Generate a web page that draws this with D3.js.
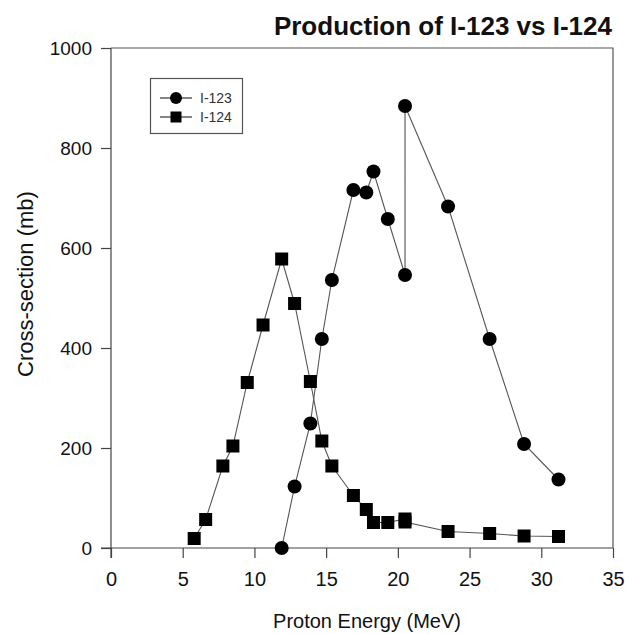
<!DOCTYPE html>
<html>
<head>
<meta charset="utf-8">
<script src="https://cdn.jsdelivr.net/npm/d3@7"></script>
<style>
  body { margin: 0; background: #fff; }
  svg { font-family: "Liberation Sans", Arial, sans-serif; }
  .tick text { fill: #111; }
  .tick line { stroke: #444; }
</style>
</head>
<body>
<div id="chart"></div>
<script>
// I-123 (circles)
var i123Energy = [11.9, 12.8, 13.9, 14.7, 15.4, 16.9, 17.8, 18.3, 19.3, 20.5, 20.5, 23.5, 26.4, 28.8, 31.2];
var i123Xs     = [0, 123, 249, 418, 536, 716, 711, 753, 658, 546, 884, 683, 418, 208, 137];
// I-124 (squares)
var i124Energy = [5.8, 6.6, 7.8, 8.5, 9.5, 10.6, 11.9, 12.8, 13.9, 14.7, 15.4, 16.9, 17.8, 18.3, 19.3, 20.5, 20.5, 23.5, 26.4, 28.8, 31.2];
var i124Xs     = [19, 57, 164, 204, 331, 446, 578, 489, 333, 214, 164, 105, 77, 51, 51, 58, 52, 33, 29, 24, 23];
var xTicks = [0, 5, 10, 15, 20, 25, 30, 35];
var yTicks = [0, 200, 400, 600, 800, 1000];

var width = 625, height = 634,
    plotLeft = 111, plotRight = 613, plotTop = 48, plotBottom = 548,
    tickLen = 10;

var svg = d3.select("#chart").append("svg")
  .attr("width", width)
  .attr("height", height);

var x = d3.scaleLinear().domain([0, 35]).range([plotLeft, plotRight]);
var y = d3.scaleLinear().domain([0, 1000]).range([plotBottom, plotTop]);

// frame top and right
svg.append("path")
  .attr("d", "M" + x(0) + "," + y(1000) + "H" + x(35) + "V" + y(0))
  .attr("fill", "none").attr("stroke", "#555").attr("stroke-width", 1.2);

var xAxis = svg.append("g")
  .attr("transform", "translate(0," + y(0) + ")")
  .call(d3.axisBottom(x).tickValues(xTicks).tickSize(tickLen).tickPadding(14));
xAxis.select(".domain").remove();
xAxis.selectAll(".tick text").attr("font-size", 20);

var yAxis = svg.append("g")
  .attr("transform", "translate(" + x(0) + ",0)")
  .call(d3.axisLeft(y).tickValues(yTicks).tickFormat(d3.format("d")).tickSize(tickLen).tickPadding(9));
yAxis.select(".domain").remove();
yAxis.selectAll(".tick text").attr("font-size", 19);

svg.selectAll(".tick line").attr("stroke-width", 1.2);

// axis lines extending past origin
svg.append("line")
  .attr("x1", x(0) - tickLen).attr("x2", x(35))
  .attr("y1", y(0)).attr("y2", y(0))
  .attr("stroke", "#444").attr("stroke-width", 1.2);
svg.append("line")
  .attr("x1", x(0)).attr("x2", x(0))
  .attr("y1", y(0) + tickLen).attr("y2", y(1000))
  .attr("stroke", "#444").attr("stroke-width", 1.2);

// titles
svg.append("text")
  .attr("x", 612).attr("y", 35)
  .attr("text-anchor", "end")
  .attr("font-size", 26).attr("font-weight", "bold")
  .attr("fill", "#111")
  .text("Production of I-123 vs I-124");

svg.append("text")
  .attr("x", 367).attr("y", 628)
  .attr("text-anchor", "middle")
  .attr("font-size", 20).attr("fill", "#111")
  .text("Proton Energy (MeV)");

svg.append("text")
  .attr("transform", "translate(33,284) rotate(-90)")
  .attr("text-anchor", "middle")
  .attr("font-size", 22).attr("fill", "#111")
  .text("Cross-section (mb)");

var line = d3.line()
  .x(function(d) { return x(d[0]); })
  .y(function(d) { return y(d[1]); });

var s123 = d3.zip(i123Energy, i123Xs),
    s124 = d3.zip(i124Energy, i124Xs);

[s123, s124].forEach(function(s) {
  svg.append("path")
    .datum(s)
    .attr("d", line)
    .attr("fill", "none")
    .attr("stroke", "#555")
    .attr("stroke-width", 1.1);
});

svg.selectAll(".sq")
  .data(s124)
  .enter().append("rect")
  .attr("class", "sq")
  .attr("x", function(d) { return x(d[0]) - 6.5; })
  .attr("y", function(d) { return y(d[1]) - 6.5; })
  .attr("width", 13).attr("height", 13)
  .attr("fill", "#000");

svg.selectAll(".dot")
  .data(s123)
  .enter().append("circle")
  .attr("class", "dot")
  .attr("cx", function(d) { return x(d[0]); })
  .attr("cy", function(d) { return y(d[1]); })
  .attr("r", 7)
  .attr("fill", "#000");

// legend
var lg = svg.append("g");
lg.append("rect")
  .attr("x", 150.5).attr("y", 78.5)
  .attr("width", 92).attr("height", 55)
  .attr("fill", "#fff").attr("stroke", "#555").attr("stroke-width", 1.2);

var legendItems = [["I-123", "circle"], ["I-124", "square"]];
legendItems.forEach(function(it, i) {
  var ly = 98 + i * 19;
  lg.append("line")
    .attr("x1", 160).attr("x2", 192)
    .attr("y1", ly).attr("y2", ly)
    .attr("stroke", "#333").attr("stroke-width", 1.2);
  if (it[1] == "circle") {
    lg.append("circle").attr("cx", 176).attr("cy", ly).attr("r", 6).attr("fill", "#000");
  } else {
    lg.append("rect").attr("x", 170.5).attr("y", ly - 5.5).attr("width", 11).attr("height", 11).attr("fill", "#000");
  }
  lg.append("text")
    .attr("x", 200).attr("y", ly + 5)
    .attr("font-size", 14).attr("fill", "#333")
    .text(it[0]);
});
</script>
</body>
</html>
